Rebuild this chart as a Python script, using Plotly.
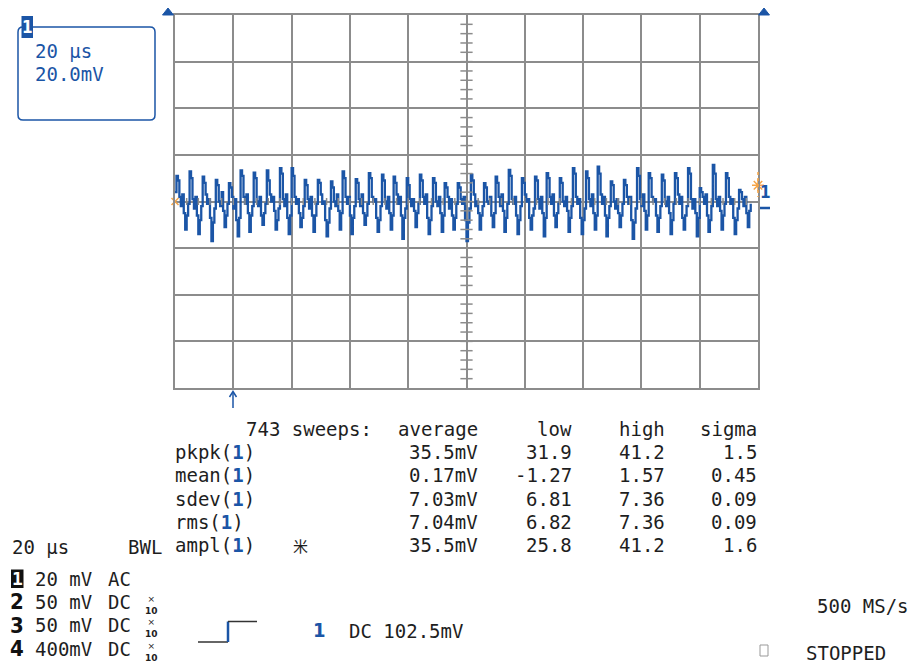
import plotly.graph_objects as go

W, H = 914, 663

# Channel 1 acquisition (mV), one row per ripple cycle, sampled every 0.5 us
ch1_mv = [
    4,
    11.0, 9, 2, -2, 3, -5, -12, -6, -1,
    12.9, 10, 1, -3, 2, -6, -14, -8, -2,
    10.7, 8, 3, -1, 1, -7, -17, -9, -3,
    9.3, 7, 0, -2, 4, -4, -11, -6, -1,
    7.9, 6, 2, -3, 1, -8, -15, -7,
    13.3, 11, 2, -1, 3, -5, -13, -6, -2,
    12.4, 10, 0, -2, 2, -6, -10, -5, -1,
    13.3, 9, 3, 0, 2, -4, -12, -8, -3,
    14.3, 12, 1, -2, 3, -7, -14, -6,
    14.3, 11, 2, -1, 1, -5, -11, -7, -2,
    9.3, 7, 1, -3, 2, -6, -13, -6, -1,
    9.3, 8, 3, -1, 0, -8, -15, -9, -3,
    8.6, 6, 0, -2, 3, -4, -12, -5,
    12.9, 10, 2, -1, 2, -6, -14, -7, -2,
    9.6, 8, 1, -2, 3, -5, -10, -6, -1,
    12.2, 10, 2, 0, 1, -7, -13, -8, -2,
    11.5, 9, 0, -3, 2, -5, -12, -6,
    10.7, 8, 3, -1, 2, -6, -16, -7, -3,
    10.0, 7, 1, -2, 1, -4, -11, -5, -1,
    11.5, 9, 2, -1, 3, -7, -14, -8, -2,
    10.0, 8, 0, -2, 2, -5, -13, -6,
    7.9, 6, 2, -3, 1, -6, -12, -7, -1,
    7.9, 6, 1, -1, 2, -8, -17, -9, -3,
    11.5, 9, 3, -2, 0, -5, -12, -6, -2,
    7.9, 6, 0, -1, 2, -6, -11, -5,
    10.7, 8, 2, -2, 3, -4, -13, -7, -1,
    13.6, 11, 1, -1, 2, -6, -14, -8, -2,
    10.0, 8, 3, 0, 1, -7, -12, -6, -3,
    10.7, 9, 1, -3, 2, -5, -15, -7,
    12.2, 10, 2, -1, 3, -6, -11, -5, -1,
    10.0, 8, 0, -2, 2, -4, -13, -7, -2,
    14.3, 12, 2, -1, 1, -7, -14, -8, -3,
    12.9, 10, 1, -2, 3, -5, -12, -6,
    15.0, 12, 3, -1, 2, -6, -15, -7, -2,
    8.6, 7, 0, -3, 1, -5, -11, -6, -1,
    9.3, 7, 2, -1, 2, -8, -16, -9, -3,
    14.3, 11, 1, -2, 3, -4, -12, -6,
    12.2, 10, 2, 0, 1, -6, -13, -7, -2,
    11.5, 9, 0, -2, 2, -5, -14, -8, -1,
    12.2, 10, 3, -1, 2, -7, -12, -6, -2,
    14.3, 12, 1, -3, 1, -5, -15, -7,
    5.7, 4, 2, -1, 3, -6, -13, -8, -2,
    15.7, 12, 1, -2, 2, -4, -12, -6, -1,
    12.2, 10, 2, -1, 1, -7, -14, -8, -3,
    5.0, 4, 1, -2, 2, -5, -11, -4, -1,
]
sample_interval_us = 0.5
time_us = [i * sample_interval_us for i in range(len(ch1_mv))]

# Screen: 10 x 20 us horizontal, 8 x 20 mV vertical
time_per_div_us = 20
volts_per_div_mv = 20
h_divs, v_divs = 10, 8

# Measurement statistics
sweeps = 743
stat_names = ["pkpk", "mean", "sdev", "rms", "ampl"]
stat_average = ["35.5mV", "0.17mV", "7.03mV", "7.04mV", "35.5mV"]
stat_low = ["31.9", "-1.27", "6.81", "6.82", "25.8"]
stat_high = ["41.2", "1.57", "7.36", "7.36", "41.2"]
stat_sigma = ["1.5", "0.45", "0.09", "0.09", "1.6"]

# Channel setup
ch_numbers = ["1", "2", "3", "4"]
ch_scales = ["20 mV", "50 mV", "50 mV", "400mV"]
ch_coupling = ["AC", "DC", "DC", "DC"]
ch_probe = ["", "×10", "×10", "×10"]

MONO = "DejaVu Sans Mono, Liberation Mono, monospace"
BLUE = "#1b55a6"
TXT = "#1e1e1e"
GRID = "#8c8c8c"
ORANGE = "#f5a446"


def px(x):
    return x / W


def py(y):
    return 1 - y / H


fig = go.Figure()
fig.add_trace(go.Scatter(x=time_us, y=ch1_mv, mode="lines",
                         line=dict(color=BLUE, width=2.3, shape="hv"),
                         hoverinfo="skip"))
# reference markers at the screen edges
fig.add_trace(go.Scatter(x=[0], y=[0], mode="markers",
                         marker=dict(symbol="x-thin-open", size=7, color=ORANGE,
                                     line=dict(width=1.5, color=ORANGE)),
                         hoverinfo="skip", cliponaxis=False))
fig.add_trace(go.Scatter(x=[200], y=[7], mode="markers",
                         marker=dict(symbol="asterisk-open", size=10, color=ORANGE,
                                     line=dict(width=1.5, color=ORANGE)),
                         hoverinfo="skip", cliponaxis=False))

x_end = time_per_div_us * h_divs
y_half = volts_per_div_mv * v_divs / 2
axis_common = dict(showgrid=True, gridcolor=GRID, gridwidth=2, showline=True,
                   mirror=True, linecolor=GRID, linewidth=2, zeroline=False,
                   showticklabels=False, ticks="", fixedrange=True)
fig.update_layout(
    width=W, height=H, margin=dict(l=0, r=0, t=0, b=0),
    paper_bgcolor="white", plot_bgcolor="white", showlegend=False,
    xaxis=dict(domain=[px(175), px(758)], range=[0, x_end],
               dtick=time_per_div_us, tick0=0, **axis_common),
    yaxis=dict(domain=[py(388), py(15)], range=[-y_half, y_half],
               dtick=volts_per_div_mv, tick0=0, **axis_common),
)

shapes = []
# minor ticks on the centre cross-hair
minor_t = time_per_div_us / 5
minor_v = volts_per_div_mv / 5
for k in range(1, h_divs * 5):
    t = k * minor_t
    shapes.append(dict(type="line", xref="x", yref="y", x0=t, x1=t, y0=-1.5, y1=1.5,
                       line=dict(color=GRID, width=1.5)))
for k in range(1, v_divs * 5):
    v = -y_half + k * minor_v
    shapes.append(dict(type="line", xref="x", yref="y", x0=x_end / 2 - 2.1,
                       x1=x_end / 2 + 2.1, y0=v, y1=v, line=dict(color=GRID, width=1.5)))
# trigger level guide at right edge
shapes.append(dict(type="line", xref="paper", yref="paper", x0=px(758), x1=px(758),
                   y0=py(172), y1=py(197), line=dict(color=ORANGE, width=1.5, dash="dot")))


def pline(x0, y0, x1, y1, color, width=1.5):
    shapes.append(dict(type="line", xref="paper", yref="paper", x0=px(x0), x1=px(x1),
                       y0=py(y0), y1=py(y1), line=dict(color=color, width=width)))


def ppath(points, fill=None, color=BLUE, width=1.5, close=True):
    d = "M " + " L ".join(f"{px(x):.5f},{py(y):.5f}" for x, y in points)
    if close:
        d += " Z"
    shapes.append(dict(type="path", xref="paper", yref="paper", path=d,
                       fillcolor=fill if fill else "rgba(0,0,0,0)",
                       line=dict(color=color, width=width)))


def rounded_rect(x0, y0, x1, y1, r, color, width=1.5):
    def P(x, y):
        return f"{px(x):.5f},{py(y):.5f}"
    d = (f"M {P(x0 + r, y0)} L {P(x1 - r, y0)} Q {P(x1, y0)} {P(x1, y0 + r)} "
         f"L {P(x1, y1 - r)} Q {P(x1, y1)} {P(x1 - r, y1)} "
         f"L {P(x0 + r, y1)} Q {P(x0, y1)} {P(x0, y1 - r)} "
         f"L {P(x0, y0 + r)} Q {P(x0, y0)} {P(x0 + r, y0)} Z")
    shapes.append(dict(type="path", xref="paper", yref="paper", path=d,
                       line=dict(color=color, width=width)))


# top position triangles
ppath([(162.5, 15), (168, 8), (173.5, 15)], fill=BLUE, width=1)
ppath([(758.5, 15), (764, 8), (769.5, 15)], fill=BLUE, width=1)
# trigger position arrow
pline(233, 392, 233, 408, BLUE, 1.5)
ppath([(229.5, 397), (233, 391.5), (236.5, 397)], color=BLUE, width=1.5, close=False)
# channel 1 ground marker
pline(760, 208, 770, 208, BLUE, 2.5)
# channel label box
rounded_rect(18, 27, 155, 120, 5, BLUE, 1.5)
shapes.append(dict(type="rect", xref="paper", yref="paper", x0=px(21.5), x1=px(33),
                   y0=py(38), y1=py(16), fillcolor=BLUE, line=dict(width=0)))
# inverted active-channel number
shapes.append(dict(type="rect", xref="paper", yref="paper", x0=px(11), x1=px(23.5),
                   y0=py(588), y1=py(569.5), fillcolor="#111", line=dict(width=0)))
# trigger slope icon
pline(198, 642, 228, 642, "#333", 1.5)
pline(228, 642, 228, 621.5, BLUE, 2.5)
pline(228, 621.5, 257, 621.5, "#333", 1.5)
# stopped indicator box
shapes.append(dict(type="rect", xref="paper", yref="paper", x0=px(760), x1=px(768),
                   y0=py(656), y1=py(645), line=dict(color="#999", width=1)))

fig.update_layout(shapes=shapes)


def label(x, y, text, anchor="left", size=19, color=TXT, family=MONO):
    fig.add_annotation(x=px(x), y=py(y), xref="paper", yref="paper", text=text,
                       showarrow=False, xanchor=anchor, yanchor="middle",
                       borderpad=0, font=dict(family=family, size=size, color=color))


one = f'<span style="color:{BLUE}"><b>1</b></span>'
BOLDNUM = "Liberation Sans Narrow, DejaVu Sans Condensed, Liberation Sans, sans-serif"

# channel box text
label(27.5, 27, "<b>1</b>", anchor="center", size=17, color="white", family=BOLDNUM)
label(34, 51, "20 µs", color=BLUE)
label(34, 74, "20.0mV", color=BLUE)

# right-edge channel tag
label(765, 192, "<b>1</b>", anchor="center", size=17, color=BLUE, family=BOLDNUM)

# statistics table
row_y = [452, 475, 498.5, 521.5, 545]
col_avg, col_low, col_high, col_sig = 479, 573, 666, 758
label(245, 428.5, f"{sweeps} sweeps:")
label(col_avg, 428.5, "average", anchor="right")
label(col_low, 428.5, "low", anchor="right")
label(col_high, 428.5, "high", anchor="right")
label(col_sig, 428.5, "sigma", anchor="right")
for i, name in enumerate(stat_names):
    y = row_y[i]
    label(174, y, f"{name}({one})")
    label(col_avg, y, stat_average[i], anchor="right")
    label(col_low, y, stat_low[i], anchor="right")
    label(col_high, y, stat_high[i], anchor="right")
    label(col_sig, y, stat_sigma[i], anchor="right")
label(300, 545, "米", anchor="center", size=15,
      family="Noto Sans CJK SC, sans-serif")

# timebase / channel settings
label(11, 547, "20 µs")
label(163, 547, "BWL", anchor="right")
ch_y = [578.5, 601.5, 625, 648.5]
for i, n in enumerate(ch_numbers):
    y = ch_y[i]
    if i == 0:
        label(17.2, y, f"<b>{n}</b>", anchor="center", size=18, color="white",
              family=MONO)
    else:
        label(17.2, y, f"<b>{n}</b>", anchor="center", size=22, color="#111",
              family=BOLDNUM)
    label(34, y, ch_scales[i])
    label(107, y, ch_coupling[i])
    if ch_probe[i]:
        label(151, y + 3, ch_probe[i][0] + "<br><b>" + ch_probe[i][1:] + "</b>",
              anchor="center", size=9, family="DejaVu Sans, sans-serif")

label(319, 630, "<b>1</b>", anchor="center", size=20, color=BLUE, family=BOLDNUM)
label(348, 631, "DC 102.5mV")
label(910, 606, "500 MS/s", anchor="right")
label(805, 653, "STOPPED")

fig.write_html("out.html")
